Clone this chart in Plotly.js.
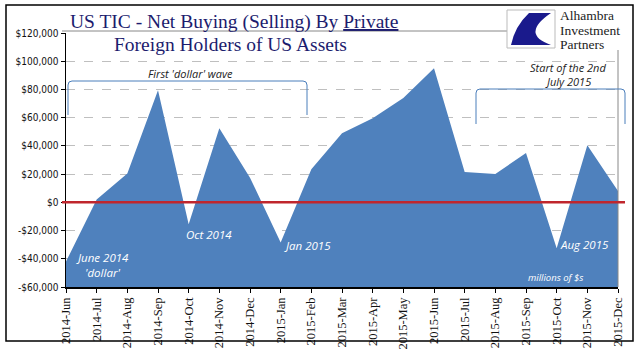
<!DOCTYPE html>
<html><head><meta charset="utf-8">
<script src="https://cdn.plot.ly/plotly-3.0.1.min.js"></script>
<style>html,body{margin:0;padding:0;background:#fff}#chart{width:641px;height:361px}</style>
</head><body><div id="chart"></div>
<script>
const months = ["2014-Jun","2014-Jul","2014-Aug","2014-Sep","2014-Oct","2014-Nov","2014-Dec","2015-Jan","2015-Feb","2015-Mar","2015-Apr","2015-May","2015-Jun","2015-Jul","2015-Aug","2015-Sep","2015-Oct","2015-Nov","2015-Dec"];
const netBuying = [-42000,2000,20500,79500,-15500,52500,17500,-28500,23500,49000,59500,74000,95000,21500,20000,35000,-32500,40500,8000];
const yTickVals = [-60000,-40000,-20000,0,20000,40000,60000,80000,100000,120000];
const yTickText = ["-$60,000","-$40,000","-$20,000","$0","$20,000","$40,000","$60,000","$80,000","$100,000","$120,000"];
const Y_MIN = -60000, Y_MAX = 120000;

const W=641,H=361, L=66, R=618, T=33, B=287;
const px = x => (x-L)/(R-L);
const py = y => (B-y)/(B-T);

const baseline = months.map(()=>Y_MIN);
const traces = [
  {x:months, y:baseline, type:'scatter', mode:'lines', line:{width:0}, hoverinfo:'skip', showlegend:false},
  {x:months, y:netBuying, type:'scatter', mode:'lines', fill:'tonexty', fillcolor:'#4F81BD', line:{width:0, color:'#4F81BD'}, showlegend:false}
];

function bracketPath(x1,x2,yTop,yBot){
  const r=4;
  return `M ${px(x1)},${py(yBot)} L ${px(x1)},${py(yTop+r)} Q ${px(x1)},${py(yTop)} ${px(x1+r)},${py(yTop)} L ${px(x2-r)},${py(yTop)} Q ${px(x2)},${py(yTop)} ${px(x2)},${py(yTop+r)} L ${px(x2)},${py(yBot)}`;
}

const shapes = [
  {type:'rect', xref:'paper', yref:'paper', x0:px(6), x1:px(633), y0:py(341), y1:py(5), line:{color:'#000', width:1.5}},
  {type:'line', xref:'paper', yref:'paper', x0:px(62), x1:px(508), y0:py(31), y1:py(31), line:{color:'#888', width:1}},
  {type:'line', xref:'paper', yref:'paper', x0:1, x1:1, y0:0, y1:py(50), line:{color:'#888', width:1}},
  {type:'line', xref:'paper', yref:'y', x0:px(62), x1:px(625), y0:0, y1:0, line:{color:'#C0262D', width:2.5}},
  {type:'path', xref:'paper', yref:'paper', path:bracketPath(68,307,81,115), line:{color:'#4A7EBB', width:1}},
  {type:'path', xref:'paper', yref:'paper', path:bracketPath(476,625,89,124), line:{color:'#4A7EBB', width:1}},
  {type:'rect', xref:'paper', yref:'paper', x0:px(507), x1:px(555), y0:py(48), y1:py(10), line:{color:'#BBB', width:1}, fillcolor:'#fff'},
  {type:'path', xref:'paper', yref:'paper', path:`M ${px(551)},${py(13)} L ${px(529)},${py(13)} Q ${px(515)},${py(26)} ${px(511)},${py(45)} L ${px(551)},${py(45)} Q ${px(520)},${py(34)} ${px(551)},${py(13)} Z`, fillcolor:'#1A1A8C', line:{width:0}}
];

function ann(text,x,y,color,size,opts){
  return Object.assign({text:text, xref:'paper', yref:'paper', x:px(x), y:py(y), showarrow:false, xanchor:'center', yanchor:'middle', font:{family:'"Open Sans", sans-serif', size:size||11, color:color, style:'italic'}}, opts||{});
}
const titleFont = {family:'"Liberation Serif", serif', size:19.5, color:'#1C1C6E'};
const logoFont = {family:'"Liberation Serif", serif', size:13.5, color:'#222'};
const annotations = [
  {text:'US TIC - Net Buying (Selling) By <u>Private</u>', xref:'paper', yref:'paper', x:px(68), y:py(22), xanchor:'left', yanchor:'middle', showarrow:false, font:titleFont},
  {text:'Foreign Holders of US Assets', xref:'paper', yref:'paper', x:px(112), y:py(44), xanchor:'left', yanchor:'middle', showarrow:false, font:titleFont},
  {text:'Alhambra', xref:'paper', yref:'paper', x:px(558), y:py(16), xanchor:'left', yanchor:'middle', showarrow:false, font:logoFont},
  {text:'Investment', xref:'paper', yref:'paper', x:px(558), y:py(30), xanchor:'left', yanchor:'middle', showarrow:false, font:logoFont},
  {text:'Partners', xref:'paper', yref:'paper', x:px(558), y:py(44), xanchor:'left', yanchor:'middle', showarrow:false, font:logoFont},
  ann("First 'dollar' wave",190,73,'#222',11),
  ann("June 2014",102,257,'#fff',11.5),
  ann("'dollar'",102,272,'#fff',11.5),
  ann("Oct 2014",209,234,'#fff',11.5),
  ann("Jan 2015",307,245,'#fff',11.5),
  ann("Aug 2015",584,244,'#fff',11.5),
  ann("millions of $s",555,277,'#fff',9.5),
  ann("Start of the 2nd",568,67,'#222',11),
  ann("July 2015",568,81,'#222',11)
];

const layout = {
  width:W, height:H, paper_bgcolor:'#fff', plot_bgcolor:'#fff',
  margin:{l:L, r:W-R, t:T, b:H-B, pad:0},
  showlegend:false,
  xaxis:{type:'category', range:[0, months.length-1], tickangle:-90, ticks:'outside', ticklen:4, tickcolor:'#000',
    showline:true, linecolor:'#000', linewidth:1.5, showgrid:false, zeroline:false,
    tickfont:{family:'"Liberation Serif", serif', size:12.5, color:'#111'}},
  yaxis:{range:[Y_MIN,Y_MAX], tickvals:yTickVals, ticktext:yTickText, ticks:'outside', ticklen:4, tickcolor:'#000',
    showline:true, linecolor:'#000', linewidth:1.5, showgrid:true, gridcolor:'#BFBFBF', griddash:'dash', gridwidth:1, zeroline:false,
    tickfont:{family:'"DejaVu Sans Condensed", sans-serif', size:10, color:'#111'}},
  shapes:shapes, annotations:annotations
};
Plotly.newPlot('chart', traces, layout, {staticPlot:true, displayModeBar:false});
</script></body></html>
